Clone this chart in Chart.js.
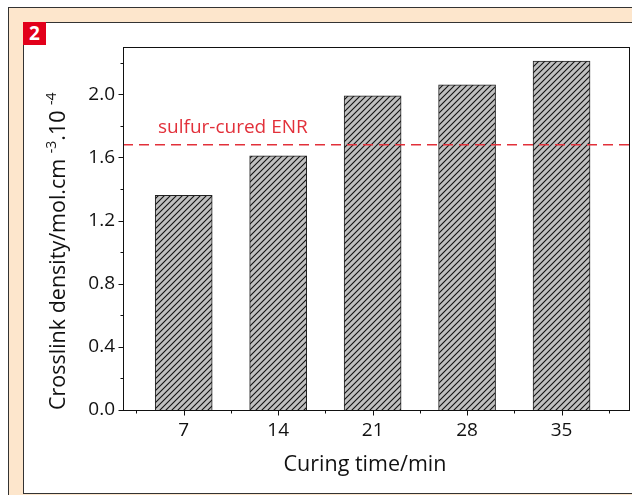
<!DOCTYPE html>
<html>
<head>
<meta charset="utf-8">
<script src="https://cdn.jsdelivr.net/npm/chart.js@4"></script>
<style>
  html, body { margin: 0; padding: 0; background: #fff; }
  #frame { position: absolute; left: 8px; top: 7px; width: 640px; height: 500px;
           background: #fde6cc; border: 1px solid #333; }
  #panel { position: absolute; left: 23px; top: 22px; width: 640px; height: 470px;
           background: #fff; border: 1px solid #333; }
  #badge { position: absolute; left: 23px; top: 22px; width: 23px; height: 23px;
           background: #e2001a; color: #fff; font: bold 19px "Open Sans", sans-serif;
           text-align: center; line-height: 23px; }
  #wrap { position: absolute; left: 0; top: 0; width: 632px; height: 495px; }
</style>
</head>
<body>
<div id="frame"></div>
<div id="panel"></div>
<div id="badge">2</div>
<div id="wrap"><canvas id="myChart" width="632" height="495"></canvas></div>
<script>
// data
const curingTime = [7, 14, 21, 28, 35];
const crosslinkDensity = [1.36, 1.61, 1.99, 2.06, 2.21];
const sulfurCured = 1.68;
const yMajor = [0, 0.4, 0.8, 1.2, 1.6, 2.0];
const yMinor = [0.2, 0.6, 1.0, 1.4, 1.8, 2.2];
const xMinor = [3.5, 10.5, 17.5, 24.5, 31.5, 38.5];

const FONT = '"Open Sans", sans-serif';

// hatched grey fill
const hatch = (() => {
  const c = document.createElement("canvas");
  c.width = 6; c.height = 6;
  const g = c.getContext("2d");
  g.fillStyle = "#c0c0c0";
  g.fillRect(0, 0, 6, 6);
  g.strokeStyle = "#111";
  g.lineWidth = 1.1;
  g.beginPath();
  g.moveTo(-1, 7); g.lineTo(7, -1);
  g.moveTo(-1, 1); g.lineTo(1, -1);
  g.moveTo(5, 7); g.lineTo(7, 5);
  g.stroke();
  return g.createPattern(c, "repeat");
})();

const decor = {
  id: "decor",
  afterDatasetsDraw(chart) {
    const { ctx, chartArea: a, scales: { x, y } } = chart;
    ctx.save();
    // dashed reference line
    const yl = y.getPixelForValue(sulfurCured);
    ctx.strokeStyle = "#e2303a";
    ctx.lineWidth = 1.5;
    ctx.setLineDash([10, 6]);
    ctx.beginPath();
    ctx.moveTo(a.left, yl); ctx.lineTo(a.right + 4, yl);
    ctx.stroke();
    ctx.setLineDash([]);
    ctx.fillStyle = "#e2303a";
    ctx.font = "19px " + FONT;
    ctx.textBaseline = "alphabetic";
    ctx.fillText("sulfur-cured ENR", 158, 133);

    // frame and ticks
    ctx.strokeStyle = "#111";
    ctx.lineWidth = 1;
    ctx.strokeRect(Math.round(a.left) + 0.5, Math.round(a.top) + 0.5,
      Math.round(a.right - a.left), Math.round(a.bottom - a.top));
    ctx.beginPath();
    const L = Math.round(a.left) + 0.5, B = Math.round(a.bottom) + 0.5;
    yMajor.forEach(v => { const p = Math.round(y.getPixelForValue(v)) + 0.5; ctx.moveTo(L - 5, p); ctx.lineTo(L, p); });
    yMinor.forEach(v => { const p = Math.round(y.getPixelForValue(v)) + 0.5; ctx.moveTo(L - 3, p); ctx.lineTo(L, p); });
    curingTime.forEach(v => { const p = Math.round(x.getPixelForValue(v)) + 0.5; ctx.moveTo(p, B); ctx.lineTo(p, B + 5); });
    xMinor.forEach(v => { const p = Math.round(x.getPixelForValue(v)) + 0.5; ctx.moveTo(p, B); ctx.lineTo(p, B + 3); });
    ctx.stroke();

    // axis titles
    ctx.fillStyle = "#111";
    ctx.font = "21.5px " + FONT;
    ctx.textAlign = "center";
    ctx.fillText("Curing time/min", 365, 471);

    ctx.translate(65, 410);
    ctx.rotate(-Math.PI / 2);
    ctx.textAlign = "left";
    let px = 0;
    const parts = [["Crosslink density/mol.cm ", 0], ["-3", 1], [".10 ", 0], ["-4", 1]];
    parts.forEach(([t, sup]) => {
      ctx.font = (sup ? "14px " : "21.5px ") + FONT;
      ctx.fillText(t, px, sup ? -9 : 0);
      px += ctx.measureText(t).width;
    });
    ctx.restore();
  }
};

const ctx = document.getElementById("myChart").getContext("2d");
new Chart(ctx, {
  type: "bar",
  data: {
    datasets: [{
      data: curingTime.map((t, i) => ({ x: t, y: crosslinkDensity[i] })),
      backgroundColor: hatch,
      borderColor: "#222",
      borderWidth: 1,
      barThickness: 57
    }]
  },
  options: {
    responsive: false,
    animation: false,
    events: [],
    layout: { padding: { left: 0, top: 47, right: 3, bottom: 0 } },
    plugins: { legend: { display: false }, tooltip: { enabled: false } },
    scales: {
      x: {
        type: "linear",
        offset: false,
        min: 2.5, max: 40,
        afterBuildTicks: s => { s.ticks = curingTime.map(v => ({ value: v })); },
        afterFit: s => { s.height = 85; },
        grid: { display: false, drawTicks: false },
        border: { display: false },
        ticks: { color: "#111", padding: 9, font: { family: FONT, size: 19 } }
      },
      y: {
        min: 0, max: 2.3,
        afterBuildTicks: s => { s.ticks = yMajor.map(v => ({ value: v })); },
        afterFit: s => { s.width = 123; },
        grid: { display: false, drawTicks: false },
        border: { display: false },
        ticks: { color: "#111", padding: 8, font: { family: FONT, size: 19 },
                 callback: v => v.toFixed(1) }
      }
    }
  },
  plugins: [decor]
});
</script>
</body>
</html>
